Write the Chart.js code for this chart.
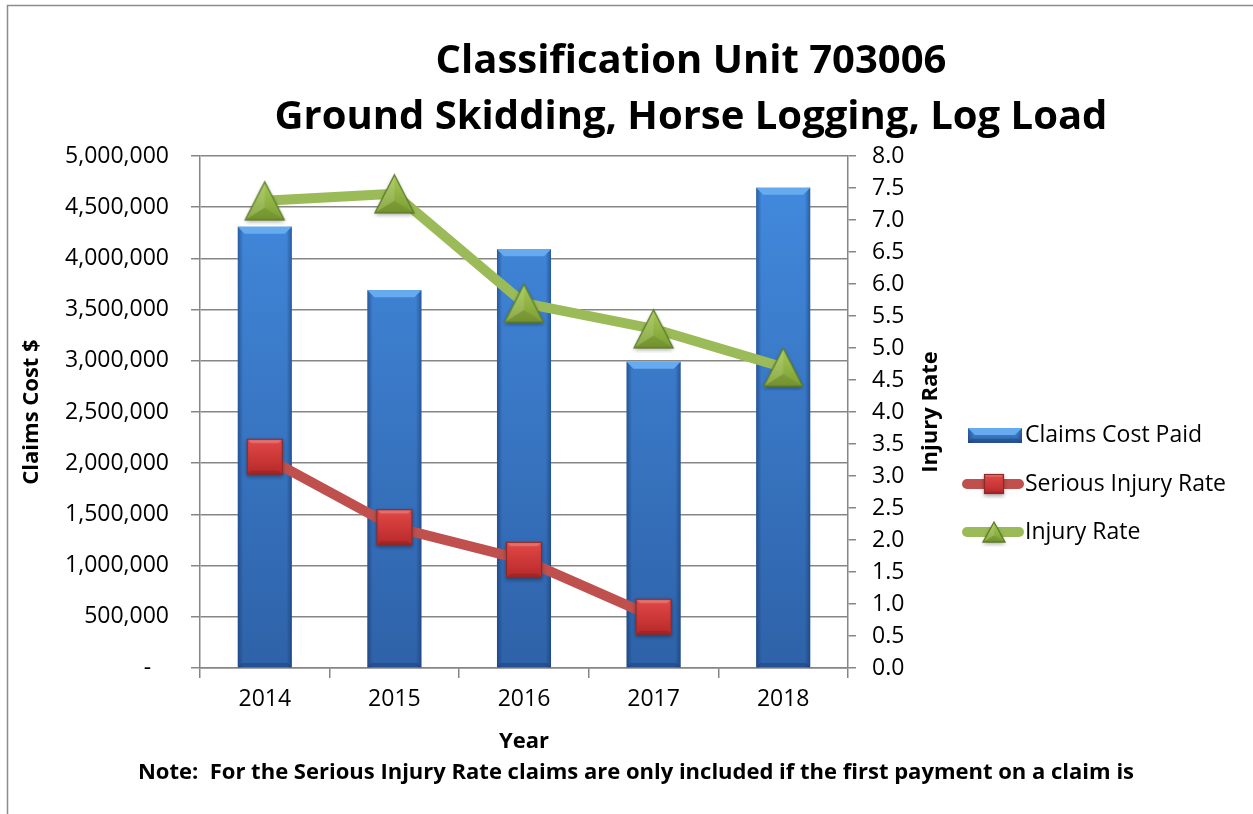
<!DOCTYPE html>
<html>
<head>
<meta charset="utf-8">
<script src="https://cdn.jsdelivr.net/npm/chart.js@4.4.1/dist/chart.umd.min.js"></script>
<style>
  html, body { margin: 0; padding: 0; background: #fff; }
  #wrap { width: 1253px; height: 814px; }
</style>
</head>
<body>
<div id="wrap"><canvas id="chart" width="1253" height="814"></canvas></div>
<script>
const years = ['2014', '2015', '2016', '2017', '2018'];
const claimsCost = [4310000, 3690000, 4090000, 2990000, 4690000];
const seriousRate = [3.30, 2.20, 1.69, 0.80, null];
const injuryRate = [7.30, 7.41, 5.70, 5.30, 4.70];

const titleLines = ['Classification Unit 703006', 'Ground Skidding, Horse Logging, Log Load'];
const legendLabels = ['Claims Cost Paid', 'Serious Injury Rate', 'Injury Rate'];
const noteText = 'Note:  For the Serious Injury Rate claims are only included if the first payment on a claim is';

const GRID = '#868686';
const RED = '#c0504d';
const GREEN = '#9bbb59';
const FONT = "'Open Sans', sans-serif";

Chart.defaults.font.family = FONT;
Chart.defaults.color = '#000';

// marker images
function triangleMarker(w, h) {
  const pad = 5;
  const c = document.createElement('canvas');
  c.width = w + pad * 2; c.height = h + pad * 2;
  const g = c.getContext('2d');
  const ax = pad + w / 2, ay = pad, lx = pad, rx = pad + w, by = pad + h;
  g.save();
  g.shadowColor = 'rgba(0,0,0,0.35)';
  g.shadowBlur = 4;
  g.shadowOffsetY = 2;
  g.beginPath();
  g.moveTo(ax, ay); g.lineTo(rx, by); g.lineTo(lx, by); g.closePath();
  const gr = g.createLinearGradient(0, ay, 0, by);
  gr.addColorStop(0, '#a6c957');
  gr.addColorStop(1, '#7d9f33');
  g.fillStyle = gr;
  g.fill();
  g.restore();
  // facets
  const cx = ax, cy = pad + h * 0.68;
  g.fillStyle = 'rgba(255,255,255,0.12)';
  g.beginPath(); g.moveTo(ax, ay); g.lineTo(cx, cy); g.lineTo(lx, by); g.closePath(); g.fill();
  g.fillStyle = 'rgba(0,0,0,0.08)';
  g.beginPath(); g.moveTo(lx, by); g.lineTo(cx, cy); g.lineTo(rx, by); g.closePath(); g.fill();
  g.beginPath();
  g.moveTo(ax, ay); g.lineTo(rx, by); g.lineTo(lx, by); g.closePath();
  g.strokeStyle = '#5c7b27';
  g.lineWidth = 1.3;
  g.stroke();
  return c;
}

function squareMarker(s) {
  const pad = 5;
  const c = document.createElement('canvas');
  c.width = s + pad * 2; c.height = s + pad * 2;
  const g = c.getContext('2d');
  g.save();
  g.shadowColor = 'rgba(0,0,0,0.35)';
  g.shadowBlur = 4;
  g.shadowOffsetY = 2;
  const gr = g.createLinearGradient(0, pad, 0, pad + s);
  gr.addColorStop(0, '#e24a47');
  gr.addColorStop(1, '#b8292a');
  g.fillStyle = gr;
  g.fillRect(pad, pad, s, s);
  g.restore();
  const b = Math.max(2, s * 0.12);
  g.fillStyle = 'rgba(255,255,255,0.22)';
  g.beginPath();
  g.moveTo(pad, pad); g.lineTo(pad + s, pad); g.lineTo(pad + s - b, pad + b); g.lineTo(pad + b, pad + b); g.closePath();
  g.fill();
  g.fillStyle = 'rgba(0,0,0,0.12)';
  g.beginPath();
  g.moveTo(pad, pad + s); g.lineTo(pad + s, pad + s); g.lineTo(pad + s - b, pad + s - b); g.lineTo(pad + b, pad + s - b); g.closePath();
  g.fill();
  g.strokeStyle = '#8a2b29';
  g.lineWidth = 1.2;
  g.strokeRect(pad + 0.5, pad + 0.5, s - 1, s - 1);
  return c;
}

const triBig = triangleMarker(39, 38);
const sqBig = squareMarker(36);
const triSmall = triangleMarker(22, 20);
const sqSmall = squareMarker(20);

// draws the bevel shading on a blue bar, used for the bars and the legend swatch
function shadeBar(ctx, l, t, r, b) {
  const w = r - l;
  const eg = ctx.createLinearGradient(l, 0, r, 0);
  eg.addColorStop(0, 'rgba(15,40,90,0.45)');
  eg.addColorStop(0.1, 'rgba(15,40,90,0.0)');
  eg.addColorStop(0.9, 'rgba(15,40,90,0.0)');
  eg.addColorStop(1, 'rgba(15,40,90,0.45)');
  ctx.fillStyle = eg;
  ctx.fillRect(l, t, w, b - t);
  const bv = Math.min(7, (b - t) / 2);
  ctx.fillStyle = '#66abf0';
  ctx.beginPath();
  ctx.moveTo(l, t); ctx.lineTo(r, t); ctx.lineTo(r - bv, t + bv); ctx.lineTo(l + bv, t + bv); ctx.closePath();
  ctx.fill();
  ctx.fillStyle = 'rgba(20,50,110,0.35)';
  ctx.beginPath();
  ctx.moveTo(l, b); ctx.lineTo(r, b); ctx.lineTo(r - bv * 0.6, b - bv * 0.6); ctx.lineTo(l + bv * 0.6, b - bv * 0.6); ctx.closePath();
  ctx.fill();
}

const extras = {
  id: 'extras',
  beforeDraw(chart) {
    const ctx = chart.ctx;
    ctx.save();
    ctx.strokeStyle = '#8c8c8c';
    ctx.lineWidth = 1.5;
    ctx.strokeRect(7.5, 5.5, 1400, 1000);
    ctx.restore();
  },
  afterDatasetDraw(chart, args) {
    if (args.index !== 0) return;
    const ctx = chart.ctx;
    ctx.save();
    args.meta.data.forEach(bar => {
      const p = bar.getProps(['x', 'y', 'base', 'width'], true);
      shadeBar(ctx, p.x - p.width / 2, p.y, p.x + p.width / 2, p.base);
    });
    ctx.restore();
  },
  afterDraw(chart) {
    const ctx = chart.ctx;
    const area = chart.chartArea;
    ctx.save();
    ctx.fillStyle = '#000';
    ctx.textBaseline = 'middle';
    ctx.textAlign = 'center';

    // title
    ctx.font = 'bold 40px ' + FONT;
    ctx.fillText(titleLines[0], 691, 62);
    ctx.fillText(titleLines[1], 691, 118);

    // right axis title
    ctx.font = 'bold 22px ' + FONT;
    ctx.save();
    ctx.translate(931, (area.top + area.bottom) / 2);
    ctx.rotate(-Math.PI / 2);
    ctx.fillText('Injury Rate', 0, 0);
    ctx.restore();

    // note
    ctx.font = 'bold 22px ' + FONT;
    ctx.fillText(noteText, 636, 773);

    // legend
    const rows = [435, 484, 532];
    const lg = ctx.createLinearGradient(0, rows[0] - 8, 0, rows[0] + 8);
    lg.addColorStop(0, '#4a90e0');
    lg.addColorStop(1, '#2d60a6');
    ctx.fillStyle = lg;
    ctx.fillRect(968, rows[0] - 7, 54, 15);
    shadeBar(ctx, 968, rows[0] - 7, 1022, rows[0] + 8);

    [[RED, sqSmall], [GREEN, triSmall]].forEach(([col, img], i) => {
      const y = rows[i + 1];
      ctx.strokeStyle = col;
      ctx.lineWidth = 10;
      ctx.lineCap = 'round';
      ctx.beginPath();
      ctx.moveTo(967, y); ctx.lineTo(1019, y);
      ctx.stroke();
      ctx.drawImage(img, 994 - img.width / 2, y - img.height / 2);
    });

    ctx.fillStyle = '#000';
    ctx.textAlign = 'left';
    ctx.font = '23px ' + FONT;
    legendLabels.forEach((t, i) => ctx.fillText(t, 1025, rows[i]));
    ctx.restore();
  }
};

new Chart(document.getElementById('chart'), {
  data: {
    labels: years,
    datasets: [
      {
        type: 'bar',
        label: legendLabels[0],
        data: claimsCost,
        yAxisID: 'y',
        order: 3,
        categoryPercentage: 1,
        barPercentage: 0.417,
        backgroundColor(c) {
          const area = c.chart.chartArea;
          if (!area) return '#3a7bd0';
          const g = c.chart.ctx.createLinearGradient(0, area.top, 0, area.bottom);
          g.addColorStop(0, '#438be0');
          g.addColorStop(1, '#2e62a8');
          return g;
        },
        borderWidth: 0
      },
      {
        type: 'line',
        label: legendLabels[1],
        data: seriousRate,
        yAxisID: 'y1',
        order: 2,
        borderColor: RED,
        borderWidth: 10,
        borderJoinStyle: 'round',
        pointStyle: sqBig,
        pointRadius: 18,
        spanGaps: false
      },
      {
        type: 'line',
        label: legendLabels[2],
        data: injuryRate,
        yAxisID: 'y1',
        order: 1,
        borderColor: GREEN,
        borderWidth: 10,
        borderJoinStyle: 'round',
        pointStyle: triBig,
        pointRadius: 18
      }
    ]
  },
  options: {
    responsive: false,
    devicePixelRatio: 1,
    animation: false,
    events: [],
    layout: { padding: { left: 0, right: 345, top: 156, bottom: 0 } },
    plugins: {
      legend: { display: false },
      tooltip: { enabled: false },
      title: { display: false }
    },
    scales: {
      x: {
        grid: { drawOnChartArea: false, color: GRID, lineWidth: 1.5, tickLength: 10, offset: true },
        border: { color: GRID, width: 1.5 },
        ticks: { padding: 8, font: { size: 23 }, color: '#000' },
        title: { display: true, text: 'Year', color: '#000', font: { size: 22, weight: 'bold' }, padding: { top: 0, bottom: 59 } },
        afterFit(s) { s.height = 146; }
      },
      y: {
        position: 'left',
        min: 0,
        max: 5000000,
        grid: { color: GRID, lineWidth: 1.5, tickLength: 9 },
        border: { color: GRID, width: 1.5 },
        ticks: {
          stepSize: 500000,
          autoSkip: false,
          padding: 22,
          font: { size: 23 },
          color: '#000',
          callback: v => v === 0 ? '-   ' : v.toLocaleString('en-US')
        },
        title: { display: true, text: 'Claims Cost $', color: '#000', font: { size: 22, weight: 'bold' }, padding: { top: 19, bottom: 0 } },
        afterFit(s) { s.width = 200; }
      },
      y1: {
        position: 'right',
        min: 0,
        max: 8,
        grid: { drawOnChartArea: false, color: GRID, lineWidth: 1.5, tickLength: 8 },
        border: { color: GRID, width: 1.5 },
        ticks: {
          stepSize: 0.5,
          autoSkip: false,
          padding: 16,
          font: { size: 23 },
          color: '#000',
          callback: v => v.toFixed(1)
        },
        afterFit(s) { s.width = 60; }
      }
    }
  },
  plugins: [extras]
});
</script>
</body>
</html>
